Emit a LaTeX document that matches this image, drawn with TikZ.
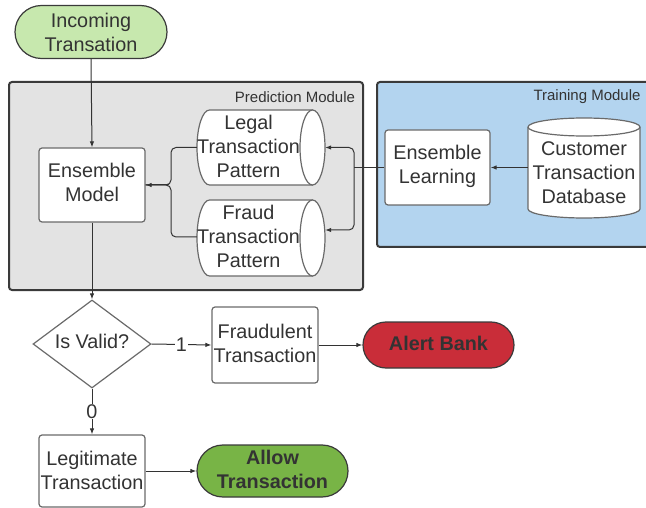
\documentclass[tikz,border=0pt]{standalone}
\usepackage{fontspec}
\setmainfont{Liberation Sans}
\usetikzlibrary{shapes.geometric,arrows.meta,calc}

\definecolor{txt}{HTML}{333333}
\definecolor{boxline}{HTML}{6A6A6A}
\definecolor{modline}{HTML}{3A3A3A}
\definecolor{predfill}{HTML}{E3E3E3}
\definecolor{trainfill}{HTML}{B3D4EF}
\definecolor{startfill}{HTML}{C7E8AE}
\definecolor{alertfill}{HTML}{C92D39}
\definecolor{allowfill}{HTML}{78B446}

\tikzset{
  base/.style={font=\fontsize{19.8}{24}\selectfont, text=txt, align=center, inner sep=0pt},
  boldtext/.style={base, font=\fontsize{19.8}{24}\selectfont\bfseries},
  procbox/.style={base, draw=boxline, line width=1.2pt, fill=white, rounded corners=3pt},
  stadium/.style={base, draw=modline, line width=1.2pt},
  hidden/.style={base, draw=none},
  cylline/.style={draw=boxline, line width=1.2pt, fill=white},
  module/.style={draw=modline, line width=2pt, rounded corners=3pt},
  modlabel/.style={font=\fontsize{15}{18}\selectfont, text=txt, inner sep=0pt},
  flow/.style={draw=txt, line width=1pt, -{Latex[length=6pt,width=4.5pt]}},
  flowplain/.style={draw=txt, line width=1pt},
  edgelabel/.style={base, fill=white, inner xsep=1pt}
}

\begin{document}
\begin{tikzpicture}[x=1pt,y=-1pt]
\clip (0,0) rectangle (646,508);

% module frames
\draw[module, fill=predfill] (9,82) rectangle (363,290);
\node[modlabel] (predlbl) at (295,97) {Prediction Module};
\draw[module, fill=trainfill] (377,82) rectangle (670,247);
\node[modlabel] (trainlbl) at (587,97) {Training Module};

% start terminal
\node[stadium, fill=startfill, minimum width=152pt, minimum height=53pt, rounded corners=26.5pt]
  (inc) at (91,32) {Incoming\\Transation};

% ensemble model
\node[procbox, minimum width=106pt, minimum height=74pt] (em) at (92,185) {};
\node[base] (emtxt) at (92,182.5) {Ensemble\\Model};

% horizontal cylinders (pattern stores)
\draw[cylline] (312.5,110) -- (209.5,110)
  arc[start angle=90, end angle=270, x radius=12.5pt, y radius=37.5pt]
  -- (312.5,185) -- cycle;
\draw[cylline] (312.5,147.5) ellipse[x radius=12.5pt, y radius=37.5pt];
\node[hidden, minimum width=128pt, minimum height=75pt] (legal) at (261,147.5) {};
\node[base] (legaltxt) at (248.5,146) {Legal\\Transaction\\Pattern};

\draw[cylline] (312.5,200) -- (209.5,200)
  arc[start angle=90, end angle=270, x radius=12.5pt, y radius=38pt]
  -- (312.5,276) -- cycle;
\draw[cylline] (312.5,238) ellipse[x radius=12.5pt, y radius=38pt];
\node[hidden, minimum width=128pt, minimum height=76pt] (fraud) at (261,238) {};
\node[base] (fraudtxt) at (248.5,236) {Fraud\\Transaction\\Pattern};

% ensemble learning
\node[procbox, minimum width=105pt, minimum height=75pt] (el) at (437.5,167.5) {};
\node[base] (eltxt) at (437.5,166.5) {Ensemble\\Learning};

% database cylinder
\draw[cylline] (528,127) -- (528,209)
  arc[start angle=180, end angle=360, x radius=56pt, y radius=9pt]
  -- (640,127)
  arc[start angle=0, end angle=180, x radius=56pt, y radius=9pt] -- cycle;
\draw[draw=boxline, line width=1.2pt] (528,127)
  arc[start angle=180, end angle=360, x radius=56pt, y radius=9pt];
\node[hidden, minimum width=112pt, minimum height=100pt] (db) at (584,168) {};
\node[base] (dbtxt) at (584,172.5) {Customer\\Transaction\\Database};

% decision and outcomes
\node[base, shape=diamond, aspect=1.34, draw=boxline, line width=1.2pt, fill=white,
  minimum width=118pt, minimum height=88pt] (valid) at (92,344) {};
\node[base] (validtxt) at (92,341.5) {Is Valid?};
\node[procbox, minimum width=106pt, minimum height=76pt] (fr) at (265,345) {};
\node[base] (frtxt) at (265,343.5) {Fraudulent\\Transaction};
\node[stadium, fill=alertfill, minimum width=151pt, minimum height=46pt, rounded corners=23pt] (alert) at (438.5,345) {};
\node[boldtext] (alerttxt) at (438.5,343) {Alert Bank};
\node[procbox, minimum width=106pt, minimum height=72pt] (legit) at (92,471) {};
\node[base] (legittxt) at (92,470) {Legitimate\\Transaction};
\node[stadium, fill=allowfill, minimum width=151pt, minimum height=52pt, rounded corners=26pt] (allow) at (272.5,471) {};
\node[boldtext] (allowtxt) at (272.5,469) {Allow\\Transaction};

% junction points
\coordinate (jl) at (171,185);
\coordinate (jr) at (354,167.5);

% connectors
\draw[flow] (inc.south) -- (em.north);
\draw[flow] (em.south) -- (valid.north);
\draw[flowplain, rounded corners=5pt] (legal.west) -| (jl) -- (em.east);
\draw[flowplain, rounded corners=5pt] ([yshift=1pt]fraud.west) -| (jl) -- (em.east);
\draw[flow] ($(jl)+(-2,0)$) -- (em.east);
\draw[flowplain] (el.west) -- (jr);
\draw[flow, rounded corners=5pt] (jr) |- (legal.east);
\draw[flow, rounded corners=5pt] (jr) |- ([yshift=8pt]fraud.east);
\draw[flow] (db.west |- el.east) -- (el.east);
\draw[flow] (valid.east) -- node[edgelabel] (lbl1) {1} (fr.west);
\draw[flow] (fr.east) -- (alert.west);
\draw[flow] (valid.south) -- node[edgelabel] (lbl0) {0} (legit.north);
\draw[flow] (legit.east) -- (allow.west);
\end{tikzpicture}
\end{document}
